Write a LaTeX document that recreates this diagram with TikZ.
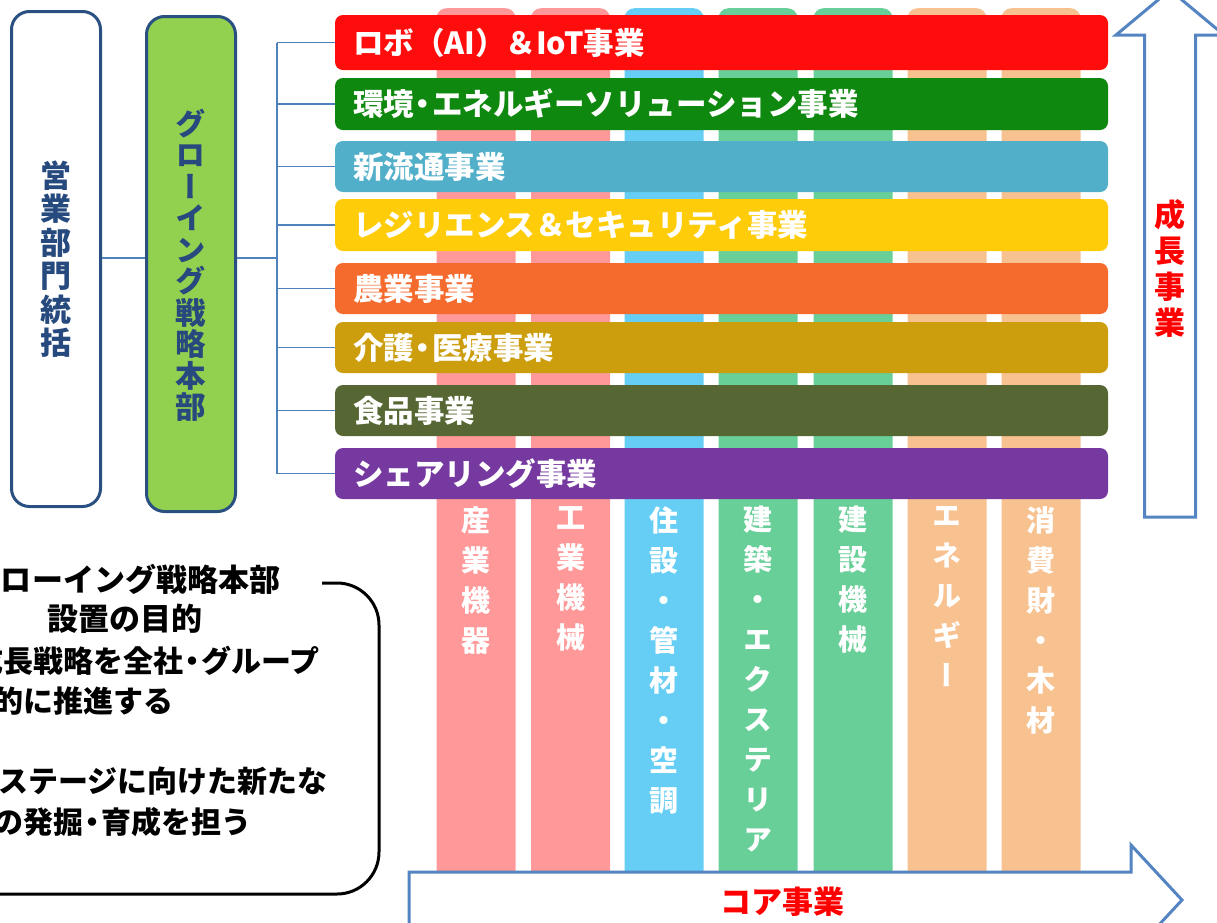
\documentclass[tikz,border=0pt]{standalone}
\usepackage{fontspec}
\setmainfont{Noto Sans CJK JP}
\newfontfamily\vjp{Noto Sans CJK JP}[RawFeature=+vert]
\newcommand{\nd}{\hspace{-0.2em}・\hspace{-0.2em}}
\definecolor{boxblue}{RGB}{42,80,130}
\definecolor{txtblue}{RGB}{38,74,125}
\definecolor{lgreen}{RGB}{146,208,80}
\definecolor{connblue}{RGB}{79,129,189}
\definecolor{arrblue}{RGB}{84,132,194}
\definecolor{bred}{RGB}{255,13,13}
\definecolor{bgreen}{RGB}{14,136,14}
\definecolor{bblue}{RGB}{82,175,201}
\definecolor{byellow}{RGB}{255,204,10}
\definecolor{borange}{RGB}{245,106,45}
\definecolor{bgold}{RGB}{204,158,14}
\definecolor{bolive}{RGB}{86,103,51}
\definecolor{bpurple}{RGB}{117,57,160}
\definecolor{cpink}{RGB}{255,153,153}
\definecolor{cblue}{RGB}{102,206,245}
\definecolor{cgreen}{RGB}{104,207,152}
\definecolor{cpeach}{RGB}{248,193,144}
\definecolor{tred}{RGB}{255,0,0}
\begin{document}
\begin{tikzpicture}[x=1pt,y=-1pt,
  col/.style={draw=none, rounded corners=10pt, minimum width=79pt, minimum height=872pt, inner sep=0pt, anchor=north},
  coltext/.style={text=white, font=\vjp\bfseries\fontsize{29}{40}\selectfont, align=center, inner sep=0pt, anchor=north},
  bar/.style={draw=none, rounded corners=8pt, minimum width=773pt, inner sep=0pt},
  bartext/.style={anchor=west, text=white, font=\bfseries\fontsize{30.5}{36}\selectfont, inner sep=0pt},
  lbox/.style={draw=boxblue, line width=3pt, rounded corners=18pt, minimum width=89pt, minimum height=495pt, inner sep=0pt},
  ltext/.style={text=txtblue, align=center, inner sep=0pt},
  conn/.style={draw=connblue, line width=1.5pt},
  arrowline/.style={draw=arrblue, line width=3pt, fill=white, line join=miter},
  redlbl/.style={text=tred, inner sep=0pt, align=center},
  boxtext/.style={text=black, font=\bfseries\fontsize{30}{39}\selectfont, inner sep=0pt}
]
\useasboundingbox (0,0) rectangle (1217,922);
\clip (0,0) rectangle (1217,922);

% columns (core businesses)
\node[col, fill=cpink]  (c1) at (476,8) {};
\node[col, fill=cpink]  (c2) at (570.5,8) {};
\node[col, fill=cblue]  (c3) at (664,8) {};
\node[col, fill=cgreen] (c4) at (758,8) {};
\node[col, fill=cgreen] (c5) at (853,8) {};
\node[col, fill=cpeach] (c6) at (947,8) {};
\node[col, fill=cpeach] (c7) at (1041,8) {};

\path (c1.north) ++(0,498) node[coltext] (t1) {産\\業\\機\\器};
\path (c2.north) ++(0,498) node[coltext] (t2) {工\\業\\機\\械};
\path (c3.north) ++(0,498) node[coltext] (t3) {住\\設\\・\\管\\材\\・\\空\\調};
\path (c4.north) ++(0,498) node[coltext] (t4) {建\\築\\・\\エ\\ク\\ス\\テ\\リ\\ア};
\path (c5.north) ++(0,498) node[coltext] (t5) {建\\設\\機\\械};
\path (c6.north) ++(0,498) node[coltext] (t6) {エ\\ネ\\ル\\ギ\\ー};
\path (c7.north) ++(0,498) node[coltext] (t7) {消\\費\\財\\・\\木\\材};

% growth business bars
\node[bar, fill=bred,    minimum height=55pt] (b1) at (721.5,42.5) {};
\node[bar, fill=bgreen,  minimum height=52pt] (b2) at (721.5,104) {};
\node[bar, fill=bblue,   minimum height=51pt] (b3) at (721.5,166.5) {};
\node[bar, fill=byellow, minimum height=52pt] (b4) at (721.5,225) {};
\node[bar, fill=borange, minimum height=51pt] (b5) at (721.5,288.5) {};
\node[bar, fill=bgold,   minimum height=51pt] (b6) at (721.5,347.5) {};
\node[bar, fill=bolive,  minimum height=51pt] (b7) at (721.5,410.5) {};
\node[bar, fill=bpurple, minimum height=51pt] (b8) at (721.5,473.5) {};

\node[bartext] (l1) at ([xshift=18pt]b1.west) {ロボ（AI）＆IoT事業};
\node[bartext] (l2) at ([xshift=18pt]b2.west) {環境\nd エネルギーソリューション事業};
\node[bartext] (l3) at ([xshift=18pt]b3.west) {新流通事業};
\node[bartext] (l4) at ([xshift=18pt]b4.west) {レジリエンス＆セキュリティ事業};
\node[bartext] (l5) at ([xshift=18pt]b5.west) {農業事業};
\node[bartext] (l6) at ([xshift=18pt]b6.west) {介護\nd 医療事業};
\node[bartext] (l7) at ([xshift=18pt]b7.west) {食品事業};
\node[bartext] (l8) at ([xshift=18pt]b8.west) {シェアリング事業};

% left boxes
\node[lbox, fill=white]  (sales) at (56,259) {};
\node[lbox, fill=lgreen] (grow)  at (191,264) {};
\node[ltext, font=\vjp\bfseries\fontsize{31}{33.5}\selectfont] (salest) at (sales.center) {営\\業\\部\\門\\統\\括};
\node[ltext, font=\vjp\bfseries\fontsize{30.5}{31.5}\selectfont] (growt) at ([yshift=-1pt]grow.center) {グ\\ロ\\ー\\イ\\ン\\グ\\戦\\略\\本\\部};

% connectors
\coordinate (bk) at (277,258);
\draw[conn] (sales.east |- bk) -- (grow.west |- bk);
\draw[conn] (grow.east |- bk) -- (bk);
\draw[conn] (bk |- b1.west) -- (bk |- b8.west);
\foreach \i in {1,...,8}{\draw[conn] (bk |- b\i.west) -- (b\i.west);}

% growth arrow (up)
\draw[arrowline] (1144.5,517) -- (1144.5,35) -- (1116,35) -- (1170,-10) -- (1224,35) -- (1195.5,35) -- (1195.5,517) -- cycle;
\node[redlbl, font=\vjp\bfseries\fontsize{31}{36}\selectfont] (growthlbl) at (1170,268.5) {成\\長\\事\\業};

% core arrow (right)
\draw[arrowline] (409,928) -- (409,872) -- (1131,872) -- (1131,845) -- (1182,900) -- (1131,955) -- (1131,928) -- cycle;
\node[redlbl, font=\bfseries\fontsize{31}{36}\selectfont] (corelbl) at (782,902) {コア事業};

% purpose box
\draw[line width=3pt, rounded corners=42pt] (322,583) -- (379,583) -- (379,894) -- (-60,894);
\node[boxtext, align=center, font=\bfseries\fontsize{31}{39}\selectfont] (ptitle) at (125,599) {グローイング戦略本部\\設置の目的};
\node[boxtext, anchor=east] (p1) at (320,661) {成長戦略を全社\nd グループ};
\node[boxtext, anchor=east] (p2) at (174,701) {横断的に推進する};
\node[boxtext, anchor=east] (p3) at (328,781) {次のステージに向けた新たな};
\node[boxtext, anchor=east] (p4) at (252,822) {事業の発掘\nd 育成を担う};
\end{tikzpicture}
\end{document}
